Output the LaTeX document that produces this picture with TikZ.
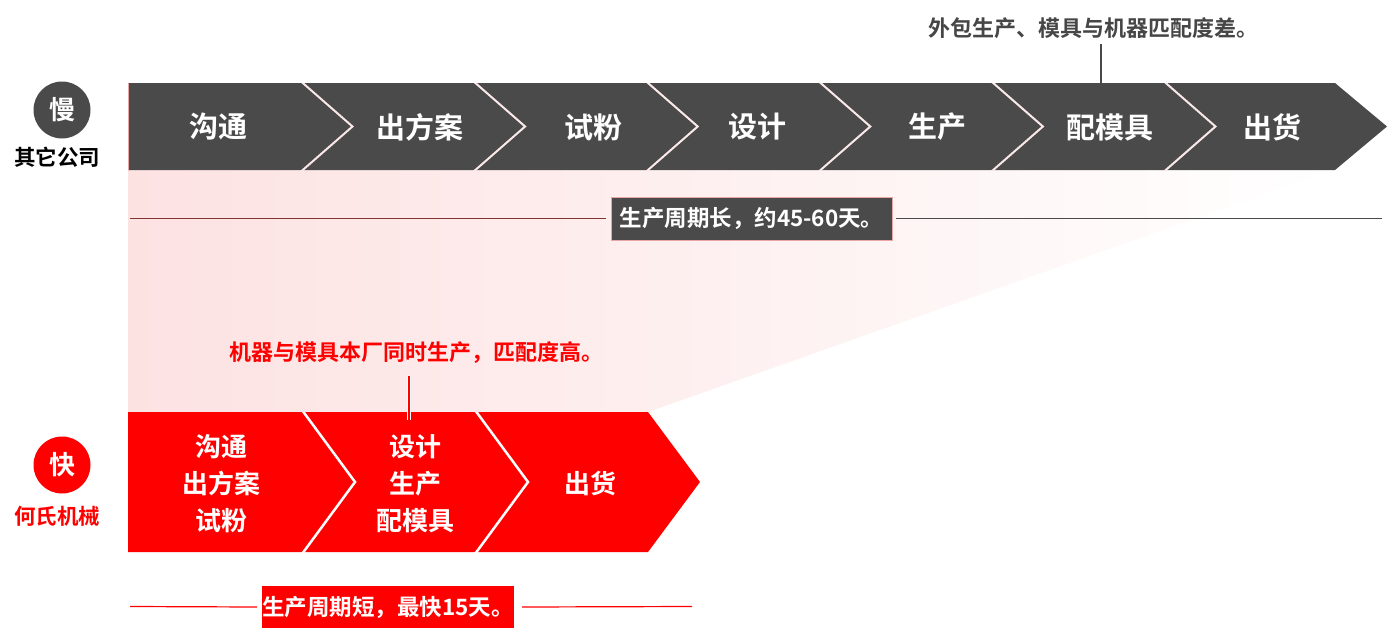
\documentclass[tikz,border=0pt]{standalone}
\usepackage{fontspec}
\setmainfont{Noto Sans CJK SC}[BoldFont={Noto Sans CJK SC Bold}]
\definecolor{dk}{HTML}{4A4A4A}
\definecolor{rd}{HTML}{FF0000}
\definecolor{pk}{HTML}{FDE2E2}
\definecolor{edge}{HTML}{E9A6A6}
\definecolor{sep}{HTML}{FBE9E9}
\tikzset{
  fs/.style={font=\bfseries\fontsize{#1}{#1}\selectfont},
  steplbl/.style={fs=29, text=white, inner sep=0pt},
  redlbl/.style={font=\bfseries\fontsize{26}{37}\selectfont, text=white, align=center, inner sep=0pt},
  badge/.style={circle, minimum size=57pt, inner sep=0pt, text=white, fs=26},
  who/.style={fs=21.5, inner sep=0pt},
  note/.style={fs=22, inner sep=0pt},
  period/.style={fs=22.5, text=white, inner sep=0pt},
}
\begin{document}
\begin{tikzpicture}[x=1pt,y=-1pt]
\useasboundingbox (0,0) rectangle (1400,629);
% gradient fan
\shade[left color=pk, right color=white] (128,170) -- (1333,170) -- (648,412) -- (128,412) -- cycle;
% slow row
\path[fill=dk] (128,83) -- (1335,83) -- (1387,126.5) -- (1335,170) -- (128,170) -- cycle;
\draw[edge, line width=0.8pt] (128.4,83) -- (128.4,170);
\begin{scope}
\clip (128,83) rectangle (1400,170);
\foreach \i in {0,...,5}
  \draw[sep, line width=2pt] ({300.5+172.6*\i},81) -- ({352.5+172.6*\i},126.5) -- ({300.5+172.6*\i},172);
\end{scope}
\node[steplbl] (s1) at (218,127) {沟通};
\node[steplbl] (s2) at (420,127) {出方案};
\node[steplbl] (s3) at (593,127) {试粉};
\node[steplbl] (s4) at (757,127) {设计};
\node[steplbl] (s5) at (937,127) {生产};
\node[steplbl] (s6) at (1110,127) {配模具};
\node[steplbl] (s7) at (1272,127) {出货};
% fast row
\path[fill=rd] (128,412) -- (648,412) -- (700,482) -- (648,552) -- (128,552) -- cycle;
\begin{scope}
\clip (128,412) rectangle (720,552);
\foreach \x in {302,475}
  \draw[white, line width=2.5pt] (\x,410) -- ({\x+53},482) -- (\x,554);
\end{scope}
\node[redlbl] (f1) at (221,484) {沟通\\出方案\\试粉};
\node[redlbl] (f2) at (415,484) {设计\\生产\\配模具};
\node[redlbl] (f3) at (590,484) {出货};
% badges
\node[badge, fill=dk] (slow) at (62,110) {慢};
\node[who, text=black] (other) at (57,157) {其它公司};
\node[badge, fill=rd] (fast) at (62,465) {快};
\node[who, text=rd] (he) at (57,516) {何氏机械};
% notes
\node[note, text=dk!95!black] (noteA) at (1093,28) {外包生产、模具与机器匹配度差。};
\coordinate (aTop) at (1101,44);
\coordinate (aBot) at (1101,92);
\draw[dk, line width=1.3pt] (aTop) -- (aBot);
\node[note, text=rd] (noteB) at (416,353) {机器与模具本厂同时生产，匹配度高。};
\coordinate (bTop) at (409,376);
\coordinate (bBot) at (409,420);
\draw[white, line width=4pt] (bTop) -- (bBot);
\draw[rd, line width=1.6pt] (bTop) -- (bBot);
% long period
\node[period, fill=dk, draw=edge, line width=0.8pt, minimum width=281pt, minimum height=43pt] (long) at (751.5,218.5) {生产周期长，约45-60天。};
\coordinate (l0) at (130,218.5);
\coordinate (l1) at (1382,218.5);
\draw[color=dk!70!red, line width=1.2pt] (l0) -- ([xshift=-5pt]long.west);
\draw[color=dk, line width=1.2pt] ([xshift=4pt]long.east) -- (l1);
% short period
\node[period, fill=rd, minimum width=252pt, minimum height=42pt] (short) at (388,607) {生产周期短，最快15天。};
\coordinate (m0) at (130,606.5);
\coordinate (m1) at (692,606.5);
\draw[rd, line width=1.2pt] (m0) -- ([xshift=-5pt]short.west);
\draw[rd, line width=1.2pt] ([xshift=8pt]short.east) -- (m1);
\end{tikzpicture}
\end{document}
